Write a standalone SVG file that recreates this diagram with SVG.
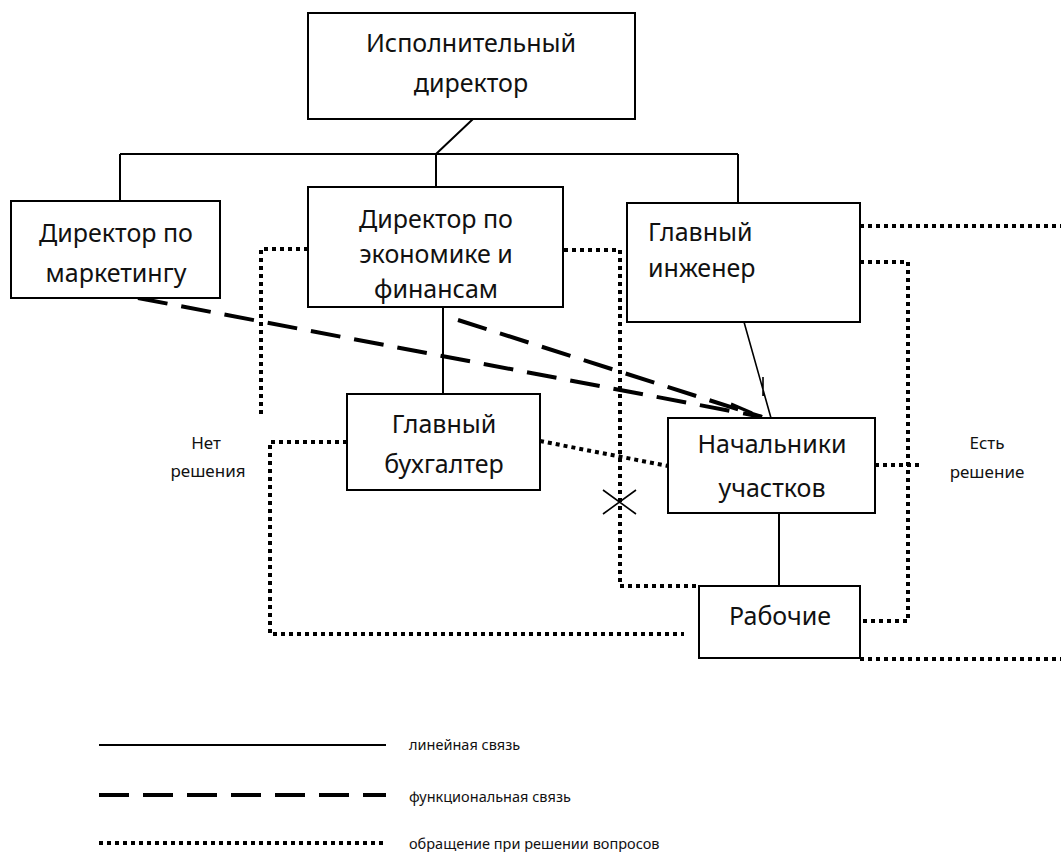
<svg xmlns="http://www.w3.org/2000/svg" width="1061" height="852" viewBox="0 0 1061 852">
<style>
.box{fill:#fff;stroke:#000;stroke-width:2}
.t{font-family:"Noto Sans","Open Sans","DejaVu Sans",sans-serif;font-size:25px;fill:#111;text-anchor:middle}
.tl{font-family:"Noto Sans","Open Sans","DejaVu Sans",sans-serif;font-size:25px;fill:#111}
.s{font-family:"Noto Sans","Open Sans","DejaVu Sans",sans-serif;font-size:17px;fill:#111;text-anchor:middle}
.lg{font-family:"Noto Sans","Open Sans","DejaVu Sans",sans-serif;font-size:14.5px;fill:#111}
.solid{fill:none;stroke:#000;stroke-width:2}
.thin{fill:none;stroke:#000;stroke-width:1.6}
.dash{fill:none;stroke:#000;stroke-width:4;stroke-dasharray:30 14}
.dot{fill:none;stroke:#000;stroke-width:4;stroke-dasharray:4 4}
</style>
<rect width="1061" height="852" fill="#fff"/>
<g id="connectors">
  <path class="solid" d="M473,119 L436,154 M120,154 H738 M120,154 V201 M436,154 V187 M738,154 V203 M443,307 V394 M779,514 V586"/>
  <path class="thin" d="M744,322 L771,418 M763,377 V396"/>
  <path class="dash" d="M138,298 L762,417"/>
  <path class="dash" d="M458,320 L762,417"/>
  <path d="M731,404 L752,413" fill="none" stroke="#000" stroke-width="3"/>
  <path class="dot" d="M308,249 H261 V417"/>
  <path class="dot" d="M347,442 H270 V634 H684"/>
  <path class="dot" d="M540,441 L668,466"/>
  <path class="dot" d="M540,250 H620 V586 H699"/>
  <path class="dot" d="M860,226 H1061"/>
  <path class="dot" d="M860,262 H908 V621 H860"/>
  <path class="dot" d="M875,465 H919"/>
  <path class="dot" d="M860,659 H1061"/>
  <path class="thin" d="M603,490 L636,514 M636,490 L603,514"/>
</g>
<g id="node-exec">
  <rect class="box" x="308" y="13" width="327" height="106"/>
  <text class="t" x="471" y="52">Исполнительный</text>
  <text class="t" x="471" y="92">директор</text>
</g>
<g id="node-marketing">
  <rect class="box" x="11" y="201" width="209" height="97"/>
  <text class="t" x="116" y="242">Директор по</text>
  <text class="t" x="116" y="282">маркетингу</text>
</g>
<g id="node-finance">
  <rect class="box" x="308" y="187" width="255" height="120"/>
  <text class="t" x="436" y="228">Директор по</text>
  <text class="t" x="436" y="263">экономике и</text>
  <text class="t" x="436" y="298">финансам</text>
</g>
<g id="node-engineer">
  <rect class="box" x="627" y="203" width="233" height="119"/>
  <text class="tl" x="648" y="241">Главный</text>
  <text class="tl" x="648" y="277">инженер</text>
</g>
<g id="node-accountant">
  <rect class="box" x="347" y="394" width="193" height="96"/>
  <text class="t" x="444" y="433">Главный</text>
  <text class="t" x="444" y="473">бухгалтер</text>
</g>
<g id="node-chiefs">
  <rect class="box" x="668" y="418" width="207" height="95"/>
  <text class="t" x="772" y="453">Начальники</text>
  <text class="t" x="772" y="497">участков</text>
</g>
<g id="node-workers">
  <rect class="box" x="699" y="586" width="161" height="72"/>
  <text class="t" x="780" y="625">Рабочие</text>
</g>
<g id="labels">
  <text class="s" x="206" y="449">Нет</text>
  <text class="s" x="208" y="477">решения</text>
  <text class="s" x="987" y="449">Есть</text>
  <text class="s" x="987" y="478">решение</text>
</g>
<g id="legend">
  <path class="solid" d="M99,745 H386"/>
  <path class="dash" d="M99,795 H386"/>
  <path class="dot" d="M99,843 H386"/>
  <text class="lg" x="409" y="750">линейная связь</text>
  <text class="lg" x="409" y="802">функциональная связь</text>
  <text class="lg" x="409" y="849">обращение при решении вопросов</text>
</g>
</svg>
